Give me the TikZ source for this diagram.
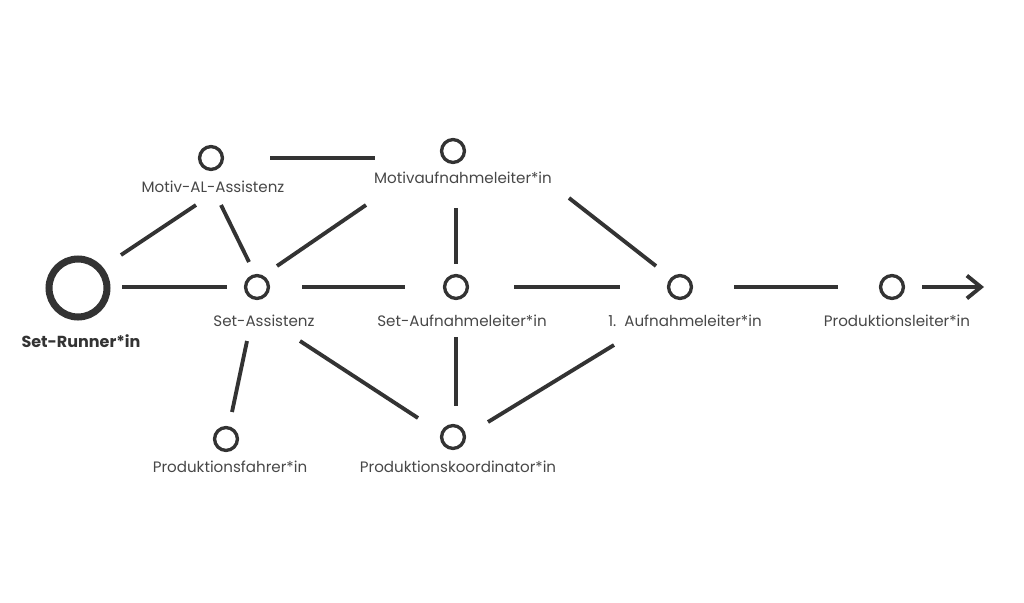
\documentclass[tikz,border=0pt]{standalone}
\usepackage{fontspec}
\setmainfont{Poppins}
\usetikzlibrary{arrows.meta,positioning}
\definecolor{ink}{RGB}{51,51,51}

\begin{document}
\begin{tikzpicture}[x=0.02cm,y=-0.02cm,>={Straight Barb[length=8pt,width=13pt]},
  line width=2.2pt,ink,
  role/.style={circle,draw=ink,line width=1.9pt,minimum size=13pt,inner sep=0pt},
  lbl/.style={font=\fontsize{8.6}{10}\selectfont,text=ink!90,inner sep=0pt}]
  \useasboundingbox (0,0) rectangle (1024,602);
  % start: the set runner (big ring)
  \node[circle,draw=ink,line width=4pt,minimum size=33pt,inner sep=0pt] (runner) at (78,288) {};
  \node[font=\fontsize{9.1}{11}\selectfont\bfseries,text=ink,inner sep=0pt] (runnerlbl) at (81,341) {Set-Runner*in};
  % roles
  \node[role] (motival) at (211,158) {};
  \node[lbl] (motivallbl) at (213,187) {Motiv-AL-Assistenz};
  \node[role] (motivaul) at (453,151) {};
  \node[lbl] (motivaullbl) at (463,178) {Motivaufnahmeleiter*in};
  \node[role] (setass) at (257,287) {};
  \node[lbl] (setasslbl) at (264,321) {Set-Assistenz};
  \node[role] (setaul) at (456,287) {};
  \node[lbl] (setaullbl) at (462,321) {Set-Aufnahmeleiter*in};
  \node[role] (al1) at (680,287) {};
  \node[lbl] (al1lbl) at (685,321) {1.\ \ Aufnahmeleiter*in};
  \node[role] (pl) at (892,287) {};
  \node[lbl] (pllbl) at (897,321) {Produktionsleiter*in};
  \node[role] (pf) at (226,439) {};
  \node[lbl] (pflbl) at (230,467) {Produktionsfahrer*in};
  \node[role] (pk) at (453,437) {};
  \node[lbl] (pklbl) at (458,467) {Produktionskoordinator*in};
  \coordinate (out) at (984,287);
  % connections (short bars, kept clear of the rings and labels)
  \draw ([shift={(44,-1)}]runner.center) -- ([shift={(-30,0)}]setass.center);
  \draw ([shift={(43,-33)}]runner.center) -- ([shift={(-15,47)}]motival.center);
  \draw ([shift={(10,47)}]motival.center) -- ([shift={(-8,-25)}]setass.center);
  \draw ([shift={(59,0)}]motival.center) -- ([shift={(-78,7)}]motivaul.center);
  \draw ([shift={(-87,54)}]motivaul.center) -- ([shift={(20,-21)}]setass.center);
  \draw ([shift={(3,57)}]motivaul.center) -- ([shift={(0,-23)}]setaul.center);
  \draw ([shift={(116,47)}]motivaul.center) -- ([shift={(-24,-21)}]al1.center);
  \draw ([shift={(45,0)}]setass.center) -- ([shift={(-51,0)}]setaul.center);
  \draw ([shift={(58,0)}]setaul.center) -- ([shift={(-60,0)}]al1.center);
  \draw ([shift={(54,0)}]al1.center) -- ([shift={(-54,0)}]pl.center);
  \draw ([shift={(-10,54)}]setass.center) -- ([shift={(6,-27)}]pf.center);
  \draw ([shift={(43,54)}]setass.center) -- ([shift={(-35,-19)}]pk.center);
  \draw ([shift={(0,50)}]setaul.center) -- ([shift={(3,-31)}]pk.center);
  \draw ([shift={(-66,58)}]al1.center) -- ([shift={(35,-15)}]pk.center);
  % way out
  \draw[->] ([shift={(30,0)}]pl.center) -- (out);
\end{tikzpicture}
\end{document}
